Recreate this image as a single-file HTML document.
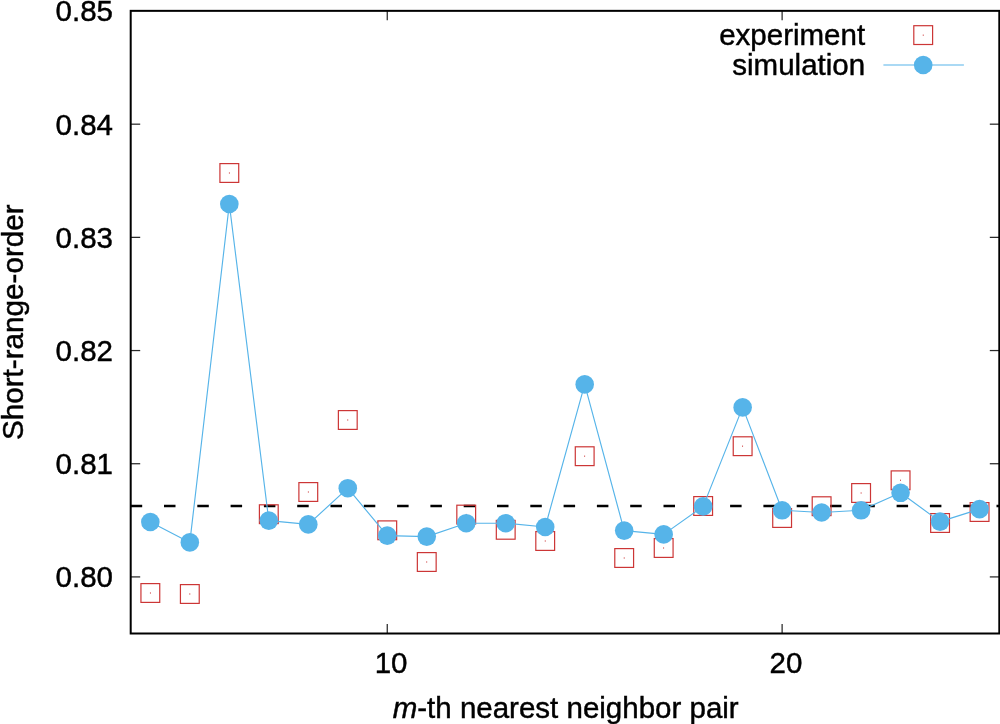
<!DOCTYPE html>
<html><head><meta charset="utf-8"><title>Short-range-order</title>
<style>html,body{margin:0;padding:0;background:#fff;}body{width:1000px;height:724px;overflow:hidden;}svg{display:block;will-change:transform;}text{font-family:"Liberation Sans",sans-serif;fill:#000;stroke:#000;stroke-width:0.45px;}</style></head><body>
<svg width="1000" height="724" viewBox="0 0 1000 724">
<rect x="0" y="0" width="1000" height="724" fill="#fff"/>
<g stroke="#2a2a2a" stroke-width="1.25" fill="none">
<line x1="387.26" y1="633.5" x2="387.26" y2="624.0"/>
<line x1="387.26" y1="10.85" x2="387.26" y2="20.35"/>
<line x1="782.12" y1="633.5" x2="782.12" y2="624.0"/>
<line x1="782.12" y1="10.85" x2="782.12" y2="20.35"/>
<line x1="130.7" y1="576.91" x2="140.2" y2="576.91"/>
<line x1="999.3" y1="576.91" x2="989.8" y2="576.91"/>
<line x1="130.7" y1="463.73" x2="140.2" y2="463.73"/>
<line x1="999.3" y1="463.73" x2="989.8" y2="463.73"/>
<line x1="130.7" y1="350.55" x2="140.2" y2="350.55"/>
<line x1="999.3" y1="350.55" x2="989.8" y2="350.55"/>
<line x1="130.7" y1="237.36" x2="140.2" y2="237.36"/>
<line x1="999.3" y1="237.36" x2="989.8" y2="237.36"/>
<line x1="130.7" y1="124.18" x2="140.2" y2="124.18"/>
<line x1="999.3" y1="124.18" x2="989.8" y2="124.18"/>
</g>
<line x1="130.7" y1="506" x2="999.3" y2="506" stroke="#000" stroke-width="2.4" stroke-dasharray="11.5 21.8"/>
<g stroke="#CC3636" stroke-width="1.2" fill="none">
<rect x="140.94" y="583.60" width="18.8" height="18.8"/>
<rect x="180.43" y="584.60" width="18.8" height="18.8"/>
<rect x="219.92" y="163.60" width="18.8" height="18.8"/>
<rect x="259.40" y="504.80" width="18.8" height="18.8"/>
<rect x="298.89" y="482.60" width="18.8" height="18.8"/>
<rect x="338.38" y="410.60" width="18.8" height="18.8"/>
<rect x="377.86" y="520.90" width="18.8" height="18.8"/>
<rect x="417.35" y="552.60" width="18.8" height="18.8"/>
<rect x="456.83" y="505.20" width="18.8" height="18.8"/>
<rect x="496.32" y="520.40" width="18.8" height="18.8"/>
<rect x="535.81" y="531.60" width="18.8" height="18.8"/>
<rect x="575.29" y="446.80" width="18.8" height="18.8"/>
<rect x="614.78" y="548.60" width="18.8" height="18.8"/>
<rect x="654.27" y="538.60" width="18.8" height="18.8"/>
<rect x="693.75" y="496.60" width="18.8" height="18.8"/>
<rect x="733.24" y="436.80" width="18.8" height="18.8"/>
<rect x="772.73" y="508.60" width="18.8" height="18.8"/>
<rect x="812.21" y="496.80" width="18.8" height="18.8"/>
<rect x="851.70" y="483.60" width="18.8" height="18.8"/>
<rect x="891.18" y="470.90" width="18.8" height="18.8"/>
<rect x="930.67" y="513.60" width="18.8" height="18.8"/>
<rect x="970.16" y="502.60" width="18.8" height="18.8"/>
<rect x="913.80" y="25.70" width="18.8" height="18.8"/>
</g>
<g fill="#CC3636">
<rect x="149.94" y="592.30" width="0.8" height="1.4"/>
<rect x="189.43" y="593.30" width="0.8" height="1.4"/>
<rect x="228.92" y="172.30" width="0.8" height="1.4"/>
<rect x="268.40" y="513.50" width="0.8" height="1.4"/>
<rect x="307.89" y="491.30" width="0.8" height="1.4"/>
<rect x="347.38" y="419.30" width="0.8" height="1.4"/>
<rect x="386.86" y="529.60" width="0.8" height="1.4"/>
<rect x="426.35" y="561.30" width="0.8" height="1.4"/>
<rect x="465.83" y="513.90" width="0.8" height="1.4"/>
<rect x="505.32" y="529.10" width="0.8" height="1.4"/>
<rect x="544.81" y="540.30" width="0.8" height="1.4"/>
<rect x="584.29" y="455.50" width="0.8" height="1.4"/>
<rect x="623.78" y="557.30" width="0.8" height="1.4"/>
<rect x="663.27" y="547.30" width="0.8" height="1.4"/>
<rect x="702.75" y="505.30" width="0.8" height="1.4"/>
<rect x="742.24" y="445.50" width="0.8" height="1.4"/>
<rect x="781.73" y="517.30" width="0.8" height="1.4"/>
<rect x="821.21" y="505.50" width="0.8" height="1.4"/>
<rect x="860.70" y="492.30" width="0.8" height="1.4"/>
<rect x="900.18" y="479.60" width="0.8" height="1.4"/>
<rect x="939.67" y="522.30" width="0.8" height="1.4"/>
<rect x="979.16" y="511.30" width="0.8" height="1.4"/>
<rect x="922.80" y="34.50" width="0.8" height="1.4"/>
</g>
<polyline points="150.34,522.00 189.83,542.40 229.32,204.00 268.80,520.60 308.29,524.40 347.77,488.20 387.26,535.60 426.75,536.60 466.23,523.20 505.72,523.20 545.21,527.00 584.69,384.40 624.18,530.60 663.67,534.40 703.15,506.40 742.64,407.40 782.12,510.30 821.61,512.50 861.10,510.30 900.58,492.80 940.07,521.60 979.56,509.10" fill="none" stroke="#56B4E9" stroke-width="1.15" stroke-linejoin="round"/>
<line x1="883.4" y1="65.0" x2="963.9" y2="65.0" stroke="#56B4E9" stroke-width="1.15"/>
<g fill="#56B4E9">
<circle cx="150.34" cy="522.00" r="9.3"/>
<circle cx="189.83" cy="542.40" r="9.3"/>
<circle cx="229.32" cy="204.00" r="9.3"/>
<circle cx="268.80" cy="520.60" r="9.3"/>
<circle cx="308.29" cy="524.40" r="9.3"/>
<circle cx="347.77" cy="488.20" r="9.3"/>
<circle cx="387.26" cy="535.60" r="9.3"/>
<circle cx="426.75" cy="536.60" r="9.3"/>
<circle cx="466.23" cy="523.20" r="9.3"/>
<circle cx="505.72" cy="523.20" r="9.3"/>
<circle cx="545.21" cy="527.00" r="9.3"/>
<circle cx="584.69" cy="384.40" r="9.3"/>
<circle cx="624.18" cy="530.60" r="9.3"/>
<circle cx="663.67" cy="534.40" r="9.3"/>
<circle cx="703.15" cy="506.40" r="9.3"/>
<circle cx="742.64" cy="407.40" r="9.3"/>
<circle cx="782.12" cy="510.30" r="9.3"/>
<circle cx="821.61" cy="512.50" r="9.3"/>
<circle cx="861.10" cy="510.30" r="9.3"/>
<circle cx="900.58" cy="492.80" r="9.3"/>
<circle cx="940.07" cy="521.60" r="9.3"/>
<circle cx="979.56" cy="509.10" r="9.3"/>
<circle cx="923.2" cy="65.0" r="9.3"/>
</g>
<rect x="130.7" y="10.85" width="868.60" height="622.65" fill="none" stroke="#000" stroke-width="2.0"/>
<g>
<text transform="translate(113.00,587.31) scale(0.971,1)" text-anchor="end" font-size="30.4px">0.80</text>
<text transform="translate(113.00,474.13) scale(0.971,1)" text-anchor="end" font-size="30.4px">0.81</text>
<text transform="translate(113.00,360.95) scale(0.971,1)" text-anchor="end" font-size="30.4px">0.82</text>
<text transform="translate(113.00,247.76) scale(0.971,1)" text-anchor="end" font-size="30.4px">0.83</text>
<text transform="translate(113.00,134.58) scale(0.971,1)" text-anchor="end" font-size="30.4px">0.84</text>
<text transform="translate(113.00,21.40) scale(0.971,1)" text-anchor="end" font-size="30.4px">0.85</text>
<text transform="translate(391.06,673.30) scale(0.971,1)" text-anchor="middle" font-size="30.4px">10</text>
<text transform="translate(785.92,673.30) scale(0.971,1)" text-anchor="middle" font-size="30.4px">20</text>
<text transform="translate(865.10,45.30)" text-anchor="end" font-size="29.5px">experiment</text>
<text transform="translate(865.10,75.20)" text-anchor="end" font-size="29.5px">simulation</text>
<text transform="translate(565.70,717.70)" text-anchor="middle" font-size="29.5px"><tspan font-style="italic">m</tspan>-th nearest neighbor pair</text>
<text transform="translate(22.70,322.20) rotate(-90)" text-anchor="middle" font-size="29.65px">Short-range-order</text>
</g>
</svg></body></html>
